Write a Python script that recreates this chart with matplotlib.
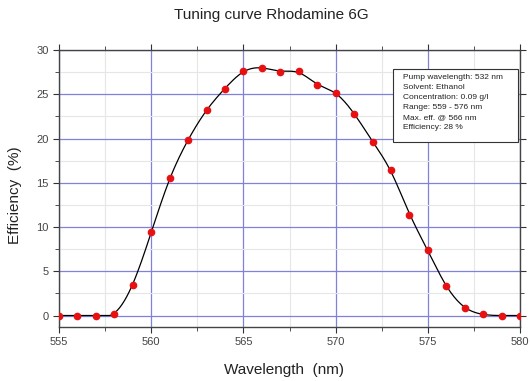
import matplotlib
matplotlib.use("Agg")
import matplotlib.pyplot as plt
import numpy as np
from matplotlib.ticker import MultipleLocator
from matplotlib.patches import Rectangle

plt.rcParams['font.family'] = ['Liberation Sans', 'DejaVu Sans']

# measured points
wavelength = [555, 556, 557, 558, 559, 560, 561, 562, 563, 564, 565, 566, 567,
              568, 569, 570, 571, 572, 573, 574, 575, 576, 577, 578, 579, 580]
efficiency = [0.0, 0.0, 0.0, 0.15, 3.5, 9.4, 15.5, 19.8, 23.2, 25.6, 27.6, 28.0, 27.5,
              27.6, 26.0, 25.2, 22.8, 19.6, 16.4, 11.4, 7.4, 3.3, 0.9, 0.15, 0.0, 0.0]

info = ["Pump wavelength: 532 nm",
        "Solvent: Ethanol",
        "Concentration: 0.09 g/l",
        "Range: 559 - 576 nm",
        "Max. eff. @ 566 nm",
        "Efficiency: 28 %"]

x = np.array(wavelength, dtype=float)
y = np.array(efficiency)

# smooth curve: local cubic regression with gaussian weights
xf = np.linspace(555, 580, 600)
yf = np.zeros_like(xf)
for i, xv in enumerate(xf):
    w = np.exp(-0.5 * ((x - xv) / 0.75) ** 2)
    c = np.polyfit(x - xv, y, 3, w=np.sqrt(w))
    yf[i] = c[-1]
yf[(xf < 557.3) | (xf > 579)] = 0
yf = np.clip(yf, 0, None)

fig = plt.figure(figsize=(5.3, 3.81), dpi=100)
ax = fig.add_axes([0.1113, 0.1417, 0.870, 0.727])

ax.plot(xf, yf, color="black", lw=0.9, zorder=3)
ax.plot(x, y, "o", color="#e81010", ms=4.5, mec="#e81010", zorder=4)

ax.set_xlim(555, 580)
ax.set_ylim(-1.3, 30)
ax.xaxis.set_major_locator(MultipleLocator(5))
ax.xaxis.set_minor_locator(MultipleLocator(2.5))
ax.yaxis.set_major_locator(MultipleLocator(5))
ax.yaxis.set_minor_locator(MultipleLocator(2.5))

ax.grid(which="minor", color="#e4e8e4", lw=0.8)
ax.grid(which="major", color="#8080dd", lw=0.9)
ax.set_axisbelow(True)

ax.tick_params(which="both", direction="out", top=True, right=True,
               labelsize=8, colors="#333333", labelcolor="#444444")
ax.tick_params(which="major", length=4)
ax.tick_params(which="minor", length=3)
for s in ax.spines.values():
    s.set_color("#444444")
    s.set_linewidth(1.0)

fig.text(0.511, 0.96, "Tuning curve Rhodamine 6G", ha="center", va="center",
         fontsize=11, color="#222222")
fig.text(0.536, 0.029, "Wavelength  (nm)", ha="center", va="center",
         fontsize=11, color="#222222")
fig.text(0.028, 0.488, "Efficiency  (%)", ha="center", va="center",
         rotation=90, fontsize=11, color="#222222")

ax.add_patch(Rectangle((0.7245, 0.668), 0.2712, 0.263, transform=ax.transAxes,
                       fc="white", ec="#333333", lw=0.8, zorder=5))
ax.text(0.745, 0.912, "\n".join(info), transform=ax.transAxes, fontsize=6,
        va="top", ha="left", linespacing=1.6, color="#222222", zorder=6)

fig.savefig("out.png", dpi=100)
